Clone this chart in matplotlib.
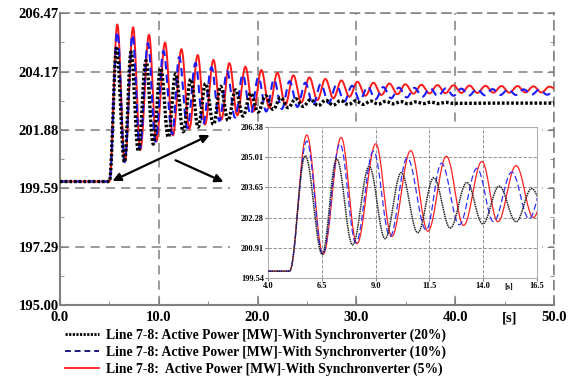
import numpy as np
import matplotlib
matplotlib.use("Agg")
import matplotlib.pyplot as plt
from matplotlib.patches import Rectangle

plt.rcParams['font.family'] = ['Liberation Serif', 'DejaVu Serif']
plt.rcParams['font.weight'] = 'bold'

# Extrema (time [s], power [MW])
t_20 = [0.0, 5.0, 5.73, 6.52, 7.19, 7.93, 8.70, 9.44, 10.19, 10.96, 11.70, 12.47, 13.24, 13.98,
        14.74, 15.53, 16.25, 17.01, 17.77, 18.53, 19.29, 20.05, 20.81, 21.57, 22.33, 23.09,
        23.85, 24.61, 25.37, 26.13, 26.89, 27.65, 28.41, 29.17, 29.93, 30.69, 31.45, 32.21,
        32.97, 33.73, 34.49, 35.25, 36.01, 36.77, 37.53, 38.29, 39.05, 39.81, 44.0, 50.0]
p_20 = [199.85, 199.85, 205.08, 200.61, 204.94, 201.04, 204.60, 201.32, 204.31, 201.59, 204.08,
        201.80, 203.87, 201.99, 203.70, 202.09, 203.59, 202.25, 203.45, 202.42, 203.32, 202.58,
        203.22, 202.68, 203.15, 202.75, 203.10, 202.80, 203.07, 202.83, 203.05, 202.85, 203.03,
        202.87, 203.02, 202.88, 203.01, 202.89, 203.00, 202.90, 202.99, 202.90, 202.98, 202.91,
        202.97, 202.91, 202.96, 202.92, 202.93, 202.93]

t_10 = [0.0, 5.0, 5.80, 6.54, 7.34, 8.08, 8.90, 9.67, 10.47, 11.35, 12.06, 12.89, 13.71, 14.48,
        15.33, 16.13, 16.92, 17.71, 18.50, 19.29, 20.08, 20.87, 21.66, 22.45, 23.24, 24.03,
        24.82, 25.61, 26.40, 27.19, 27.98, 28.77, 29.56, 30.35, 31.14, 31.93, 32.72, 33.51,
        34.30, 35.09, 35.88, 36.67, 37.46, 38.25, 39.04, 39.83, 40.62, 41.41, 42.20, 42.99,
        43.78, 44.57, 45.36, 46.15, 46.94, 47.73, 48.52, 49.31, 50.0]
p_10 = [199.85, 199.85, 205.74, 200.61, 205.62, 201.14, 205.29, 201.42, 204.98, 201.71, 204.74,
        201.95, 204.51, 202.09, 204.34, 202.23, 204.18, 202.36, 204.05, 202.48, 203.95, 202.60,
        203.86, 202.70, 203.79, 202.78, 203.73, 202.86, 203.68, 202.93, 203.64, 202.99, 203.61,
        203.04, 203.58, 203.08, 203.56, 203.12, 203.54, 203.15, 203.53, 203.18, 203.52, 203.20,
        203.51, 203.22, 203.50, 203.23, 203.49, 203.24, 203.48, 203.25, 203.47, 203.25, 203.47,
        203.26, 203.46, 203.26, 203.40]

t_5 = [0.0, 5.0, 5.80, 6.56, 7.40, 8.13, 9.01, 9.75, 10.63, 11.43, 12.29, 13.09, 13.94, 14.68,
       15.53, 16.33, 17.14, 17.95, 18.76, 19.57, 20.38, 21.19, 22.00, 22.81, 23.62, 24.43,
       25.24, 26.05, 26.86, 27.67, 28.48, 29.29, 30.10, 30.91, 31.72, 32.53, 33.34, 34.15,
       34.96, 35.77, 36.58, 37.39, 38.20, 39.01, 39.82, 40.63, 41.44, 42.25, 43.06, 43.87,
       44.68, 45.49, 46.30, 47.11, 47.92, 48.73, 49.54, 50.0]
p_5 = [199.85, 199.85, 206.02, 200.61, 205.91, 201.09, 205.62, 201.42, 205.31, 201.66, 205.05,
       201.92, 204.82, 202.09, 204.63, 202.28, 204.50, 202.45, 204.36, 202.60, 204.23, 202.74,
       204.12, 202.86, 204.02, 202.96, 203.94, 203.05, 203.88, 203.12, 203.82, 203.18, 203.77,
       203.22, 203.73, 203.25, 203.70, 203.28, 203.67, 203.30, 203.65, 203.31, 203.64, 203.32,
       203.63, 203.33, 203.62, 203.33, 203.61, 203.34, 203.60, 203.34, 203.60, 203.35, 203.59,
       203.35, 203.58, 203.52]

labels = ['Line 7-8: Active Power [MW]-With Synchronverter (20%)',
          'Line 7-8: Active Power [MW]-With Synchronverter (10%)',
          'Line 7-8:  Active Power [MW]-With Synchronverter (5%)']

main_yticks = [195.00, 197.29, 199.59, 201.88, 204.17, 206.47]
main_xticks = [0.0, 10.0, 20.0, 30.0, 40.0, 50.0]
ins_yticks = [199.54, 200.91, 202.28, 203.65, 205.01, 206.38]
ins_xticks = [4.0, 6.5, 9.0, 11.5, 14.0, 16.5]


def smooth(ts, vs, n=24):
    # draw each swing between two read extrema as a half cosine
    out_t, out_v = [], []
    for i in range(len(ts) - 1):
        s = np.linspace(0, 1, n, endpoint=False)
        out_t.append(ts[i] + s * (ts[i + 1] - ts[i]))
        out_v.append(vs[i] + (1 - np.cos(np.pi * s)) / 2 * (vs[i + 1] - vs[i]))
    out_t.append([ts[-1]])
    out_v.append([vs[-1]])
    return np.concatenate(out_t), np.concatenate(out_v)


fig = plt.figure(figsize=(5.74, 3.76), dpi=100)
ax = fig.add_axes([60 / 574, 1 - 305 / 376, 494 / 574, 292 / 376])

grid_c = '#808080'
x, y = smooth(t_5, p_5)
ax.plot(x, y, color='#ff1a1a', lw=1.4, zorder=3)
x, y = smooth(t_10, p_10)
ax.plot(x, y, color='#1a1aff', lw=1.5, ls=(0, (4, 2.5)), zorder=4)
x, y = smooth(t_20, p_20)
ax.plot(x, y, color='black', lw=2.4, ls=(0, (0.8, 0.6)), zorder=5)

ax.set_xlim(0, 50)
ax.set_ylim(195.0, 206.47)
ax.set_xticks(main_xticks)
ax.set_xticklabels(['%.1f' % v for v in main_xticks], fontsize=10.5, fontweight='bold')
ax.set_yticks(main_yticks)
ax.set_yticklabels(['%.2f' % v for v in main_yticks], fontsize=10.5, fontweight='bold')
ax.set_xticks([5, 15, 25, 35, 45], minor=True)
ax.set_yticks([196.15, 198.44, 200.73, 203.02, 205.32], minor=True)
ax.tick_params(which='both', direction='in', right=True, color=grid_c)
ax.tick_params(which='major', length=5)
ax.tick_params(which='minor', length=3)
ax.tick_params(axis='y', pad=1)
ax.tick_params(axis='x', pad=4)
ax.grid(True, which='major', color=grid_c, ls=(0, (6, 4)), lw=1.1)
for side in ['left', 'bottom']:
    ax.spines[side].set_color(grid_c)
    ax.spines[side].set_linewidth(1.5)
for side in ['top', 'right']:
    ax.spines[side].set_color(grid_c)
    ax.spines[side].set_linestyle((0, (6, 4)))
    ax.spines[side].set_linewidth(1.1)
ax.text(45.5, -0.045, '[s]', transform=ax.get_xaxis_transform(), ha='center', va='center',
        fontsize=10.5, fontweight='bold')

ax.annotate('', xy=(5.06, 199.83), xytext=(15.4, 201.72),
            arrowprops=dict(arrowstyle='<|-|>', color='black', lw=1.6, mutation_scale=12), zorder=6)
ax.annotate('', xy=(16.8, 199.79), xytext=(11.44, 200.73),
            arrowprops=dict(arrowstyle='-|>', color='black', lw=1.6, mutation_scale=12), zorder=6)

# white patch under the inset and its labels
fig.patches.append(Rectangle((230 / 574, 1 - 292 / 376), 312 / 574, 169 / 376,
                             transform=fig.transFigure, facecolor='white', edgecolor='none', zorder=1))

ins = fig.add_axes([268 / 574, 1 - 278 / 376, 269 / 574, 151 / 376], zorder=2)
x, y = smooth(t_5, p_5)
ins.plot(x, y, color='#ff2020', lw=0.9, zorder=3)
x, y = smooth(t_10, p_10)
ins.plot(x, y, color='#3030ff', lw=0.9, ls=(0, (5, 2.5)), zorder=4)
x, y = smooth(t_20, p_20)
ins.plot(x, y, color='#222222', lw=1.1, ls=(0, (1, 0.5)), zorder=5)
ins.set_xlim(4.0, 16.5)
ins.set_ylim(199.54, 206.38)
ins.set_xticks(ins_xticks)
ins.set_xticklabels(['%.1f' % v for v in ins_xticks], fontsize=6, fontweight='bold')
ins.set_yticks(ins_yticks)
ins.set_yticklabels(['%.2f' % v for v in ins_yticks], fontsize=6, fontweight='bold')
ins.tick_params(length=2, color=grid_c, pad=1)
ins.grid(True, color=grid_c, ls=(0, (4, 2)), lw=0.6)
for side in ins.spines:
    ins.spines[side].set_color('#b0b0b0')
    ins.spines[side].set_linewidth(0.8)
ins.text(15.2, -0.035, '[s]', transform=ins.get_xaxis_transform(), ha='center', va='top',
         fontsize=6, fontweight='bold')

h1, = ax.plot([], [], color='black', lw=2.0, ls=(0, (0.8, 0.5)))
h2, = ax.plot([], [], color='#1a1a80', lw=1.4, ls=(0, (3, 2)))
h3, = ax.plot([], [], color='red', lw=1.2)
fig.legend([h1, h2, h3], labels, loc='upper left', bbox_to_anchor=(58 / 574, 1 - 322 / 376),
           frameon=False, handlelength=2.5, handletextpad=0.5, labelspacing=0.25,
           borderpad=0, prop={'family': 'Liberation Serif', 'weight': 'bold', 'size': 9.8})

fig.savefig('out.png', dpi=100)
